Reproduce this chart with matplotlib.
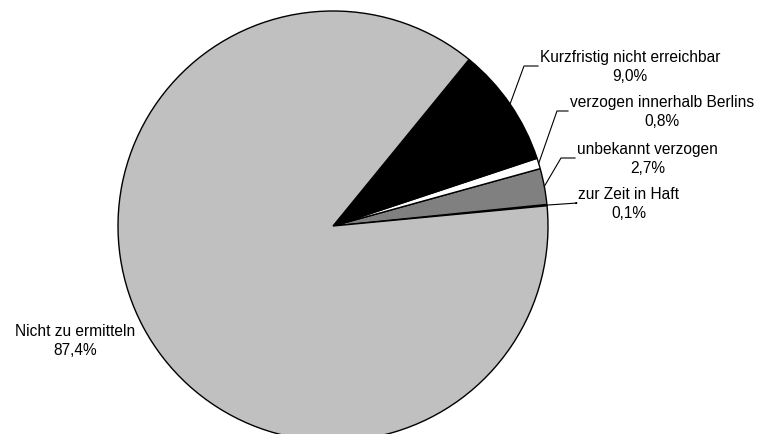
import numpy as np
import matplotlib.pyplot as plt

plt.rcParams['font.family'] = ['Liberation Sans', 'DejaVu Sans']

# Anteile (in Prozent), gegen den Uhrzeigersinn ab rechts
labels = ['zur Zeit in Haft', 'unbekannt verzogen', 'verzogen innerhalb Berlins',
          'Kurzfristig nicht erreichbar', 'Nicht zu ermitteln']
values = [0.1, 2.7, 0.8, 9.0, 87.4]
value_text = ['0,1%', '2,7%', '0,8%', '9,0%', '87,4%']
colors = ['#808080', '#808080', '#ffffff', '#000000', '#c0c0c0']

W, H = 758, 435
fig = plt.figure(figsize=(W / 100, H / 100), dpi=100)
ax = fig.add_axes([0, 0, 1, 1])

cx, cy, r = 333, H - 227, 215
start = 5.4
wedges, _ = ax.pie(values, colors=colors, startangle=start, counterclock=True,
                   center=(cx, cy), radius=r, frame=True,
                   wedgeprops=dict(edgecolor='black', linewidth=1.0))
ax.set_xlim(0, W)
ax.set_ylim(0, H)
ax.axis('off')

# Beschriftungen: (Knick x, Knick y, Text x) in Pixeln
label_pos = {
    0: (577, H - 204, 578),
    1: (561, H - 159, 577),
    2: (557, H - 112, 570),
    3: (524, H - 67, 540),
}
fs = 11.2
for i, w in enumerate(wedges):
    txt = labels[i] + '\n' + value_text[i]
    if i in label_pos:
        kx, ky, tx = label_pos[i]
        ang = np.deg2rad((w.theta1 + w.theta2) / 2)
        px, py = cx + r * np.cos(ang), cy + r * np.sin(ang)
        ax.plot([px, kx, tx - 2], [py, ky, ky], color='black', lw=0.8)
        ax.text(tx, ky, txt, ha='left', va='center', ma='center',
                fontsize=fs, linespacing=1.3)
    else:
        ax.text(75, H - 341, txt, ha='center', va='center', ma='center',
                fontsize=fs, linespacing=1.35)

fig.savefig('out.png', dpi=100)
